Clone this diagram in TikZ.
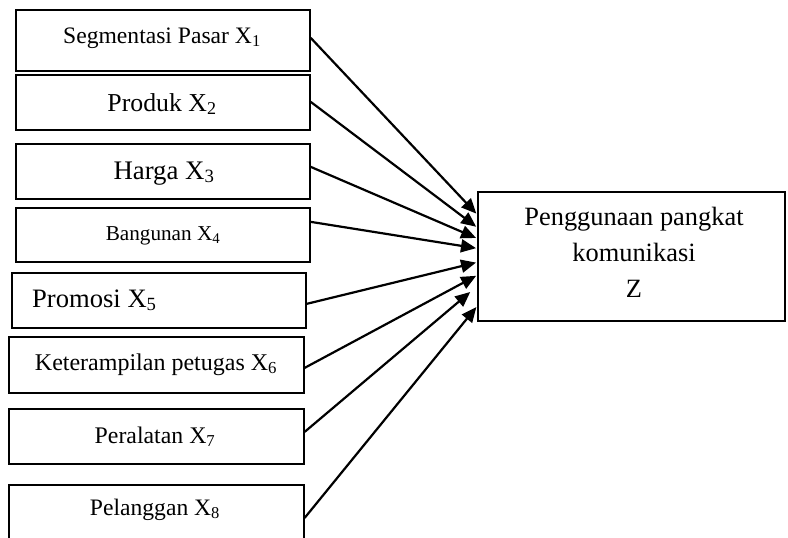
\documentclass[tikz,border=0pt]{standalone}
\usepackage{fontspec}
\setmainfont{Liberation Serif}
\usetikzlibrary{arrows.meta}
\newcommand{\fs}[1]{\fontsize{#1}{#1}\selectfont}
\begin{document}
\begin{tikzpicture}[x=1pt,y=-1pt,
  box/.style={draw,line width=1.7pt,inner sep=0pt,anchor=north west},
  lbl/.style={anchor=base,inner sep=0pt},
  arr/.style={line width=2.2pt,-{Triangle[length=15pt,width=13pt]},shorten >=1pt}]
\useasboundingbox (0,0) rectangle (788,538);
% source boxes
\node[box,minimum width=294pt,minimum height=61pt] (b1) at (15,9) {};
\node[box,minimum width=294pt,minimum height=55pt] (b2) at (15,74) {};
\node[box,minimum width=294pt,minimum height=55pt] (b3) at (15,143) {};
\node[box,minimum width=294pt,minimum height=54pt] (b4) at (15,207) {};
\node[box,minimum width=294pt,minimum height=55pt] (b5) at (11,272) {};
\node[box,minimum width=295pt,minimum height=56pt] (b6) at (8,336) {};
\node[box,minimum width=295pt,minimum height=55pt] (b7) at (8,408) {};
\node[box,minimum width=295pt,minimum height=56pt] (b8) at (8,484) {};
% target box
\node[box,minimum width=307pt,minimum height=129pt] (z) at (477,191) {};
% labels
\node[lbl] (t1) at (162,43) {\fs{23.6}Segmentasi Pasar X\textsubscript{1}};
\node[lbl] (t2) at (162,111) {\fs{25.8}Produk X\textsubscript{2}};
\node[lbl] (t3) at (164,179) {\fs{26.8}Harga X\textsubscript{3}};
\node[lbl] (t4) at (163,240) {\fs{21.2}Bangunan X\textsubscript{4}};
\node[lbl,anchor=base west] (t5) at (32,307) {\fs{26.6}Promosi X\textsubscript{5}};
\node[lbl] (t6) at (156,370) {\fs{24}Keterampilan petugas X\textsubscript{6}};
\node[lbl] (t7) at (155,443) {\fs{23.8}Peralatan X\textsubscript{7}};
\node[lbl] (t8) at (155,515) {\fs{23.6}Pelanggan X\textsubscript{8}};
\node[lbl] (z1) at (634,225) {\fs{26.4}Penggunaan pangkat};
\node[lbl] (z2) at (634,261) {\fs{26.4}komunikasi};
\node[lbl] (z3) at (634,297) {\fs{26.4}Z};
% connectors
\draw[arr] ([yshift=2.5pt]b1.east) -- ([yshift=42pt]z.west);
\draw[arr] ([yshift=0.5pt]b2.east) -- ([yshift=29pt]z.west);
\draw[arr] ([yshift=4.5pt]b3.east) -- ([yshift=18pt]z.west);
\draw[arr] ([yshift=13pt]b4.east) -- ([yshift=8pt]z.west);
\draw[arr] ([yshift=-3.5pt]b5.east) -- ([yshift=-6pt]z.west);
\draw[arr] ([yshift=-3pt]b6.east) -- ([yshift=-19pt]z.west);
\draw[arr] ([yshift=4.5pt]b7.east) -- ([xshift=-6pt,yshift=-35pt]z.west);
\draw[arr] ([yshift=-5pt]b8.east) -- ([yshift=-50pt]z.west);
\end{tikzpicture}
\end{document}
